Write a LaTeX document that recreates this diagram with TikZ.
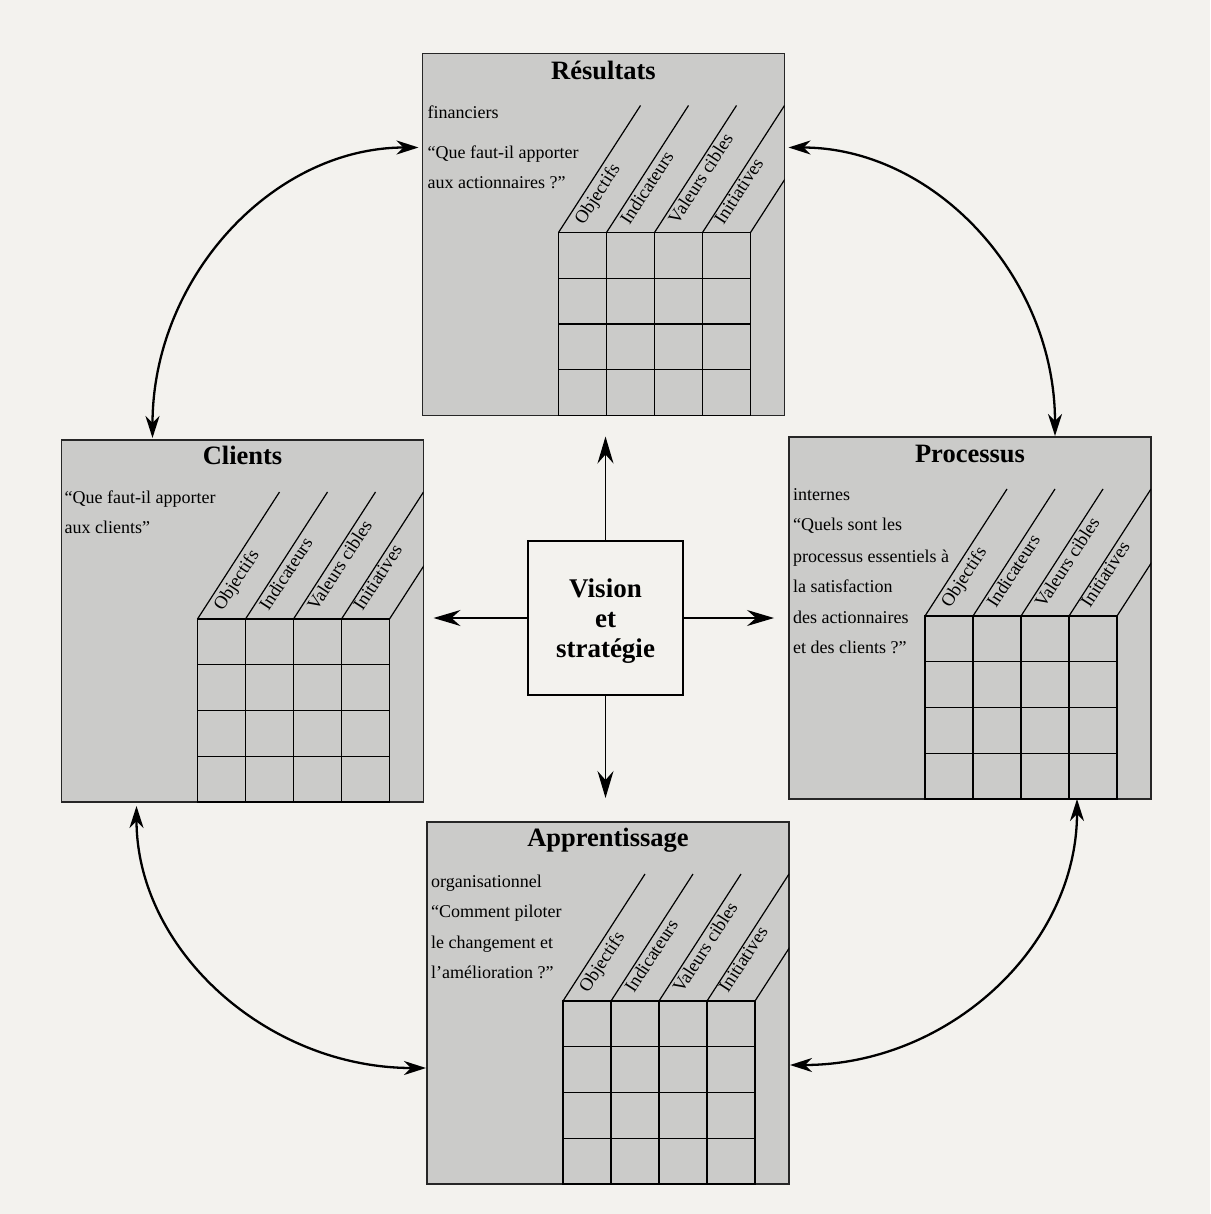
\documentclass[tikz,border=0pt]{standalone}
\usepackage{fontspec}
\setmainfont{Liberation Serif}
\usetikzlibrary{arrows.meta,calc}
\definecolor{pagebg}{RGB}{243,242,238}
\definecolor{boxgray}{RGB}{203,203,201}
\newcommand{\panelgrid}[1]{%
  \begin{scope}[shift={(#1.north west)}]
    \begin{scope}
      \clip (0,0) rectangle (362,362);
      \draw[gridline] (136,179) rectangle (328,362);
      \foreach \i in {1,2,3} \draw[gridline] (136+48*\i,179) -- ++(0,183);
      \foreach \j in {1,2,3} \draw[gridline] (136,179+45.75*\j) -- ++(192,0);
      \foreach \i in {0,...,4} \draw[gridline] (136+48*\i,179) -- ++(82,-127);
    \end{scope}
    \node[collabel] at (136+25,172) {Objectifs};
    \node[collabel] at (136+48+23,172) {Indicateurs};
    \node[collabel] at (136+96+23,172) {Valeurs cibles};
    \node[collabel] at (136+144+21,172) {Initiatives};
  \end{scope}}
\begin{document}
\begin{tikzpicture}[x=1pt,y=-1pt,
  panel/.style={draw=black!85, line width=1.3pt, fill=boxgray,
    minimum width=362pt, minimum height=362pt, inner sep=0pt, outer sep=0pt},
  visbox/.style={draw=black, line width=1.4pt, fill=pagebg,
    minimum width=155pt, minimum height=154pt, inner sep=0pt, outer sep=0pt},
  gridline/.style={draw=black, line width=1.2pt},
  collabel/.style={rotate=57, anchor=base west, inner sep=0pt,
    font=\fontsize{18.5}{20}\selectfont},
  titletext/.style={anchor=base, inner sep=0pt,
    font=\bfseries\fontsize{26.5}{30}\selectfont},
  bodytext/.style={anchor=base west, inner sep=0pt,
    font=\fontsize{18}{20}\selectfont},
  straightarrow/.style={draw=black, line width=1.4pt,
    -{Stealth[length=27pt,width=16pt,inset=9pt]}},
  curvearrow/.style={draw=black, line width=2.3pt,
    {Stealth[length=22pt,width=14pt,inset=7pt]}-{Stealth[length=22pt,width=14pt,inset=7pt]}}]

\useasboundingbox (0,0) rectangle (1210,1214);
\fill[pagebg] (0,0) rectangle (1210,1214);

% panels
\node[panel] (res) at (603.5,234.5) {};
\node[panel] (cli) at (242.5,621) {};
\node[panel] (pro) at (970,618) {};
\node[panel] (app) at (608,1003) {};
\node[visbox] (vis) at (605.5,618) {};

\panelgrid{res}
\panelgrid{cli}
\panelgrid{pro}
\panelgrid{app}

% titles
\node[titletext] (tres) at ($(res.north)+(0,26)$) {Résultats};
\node[titletext] (tcli) at ($(cli.north)+(0,24)$) {Clients};
\node[titletext] (tpro) at ($(pro.north)+(0,25)$) {Processus};
\node[titletext] (tapp) at ($(app.north)+(0,24)$) {Apprentissage};

% body texts
\node[bodytext] (r1) at ($(res.north west)+(5,65)$) {financiers};
\node[bodytext] (r2) at ($(res.north west)+(5,105)$) {“Que faut-il apporter};
\node[bodytext] (r3) at ($(res.north west)+(5,135)$) {aux actionnaires ?”};

\node[bodytext] (c1) at ($(cli.north west)+(3,63)$) {“Que faut-il apporter};
\node[bodytext] (c2) at ($(cli.north west)+(3,93)$) {aux clients”};

\node[bodytext] (p1) at ($(pro.north west)+(4,63)$) {internes};
\node[bodytext] (p2) at ($(pro.north west)+(4,93)$) {“Quels sont les};
\node[bodytext] (p3) at ($(pro.north west)+(4,125)$) {processus essentiels à};
\node[bodytext] (p4) at ($(pro.north west)+(4,155)$) {la satisfaction};
\node[bodytext] (p5) at ($(pro.north west)+(4,186)$) {des actionnaires};
\node[bodytext] (p6) at ($(pro.north west)+(4,216)$) {et des clients ?”};

\node[bodytext] (a1) at ($(app.north west)+(4,65)$) {organisationnel};
\node[bodytext] (a2) at ($(app.north west)+(4,95)$) {“Comment piloter};
\node[bodytext] (a3) at ($(app.north west)+(4,126)$) {le changement et};
\node[bodytext] (a4) at ($(app.north west)+(4,156)$) {l’amélioration ?”};

% vision text
\node[align=center, inner sep=0pt, font=\bfseries\fontsize{27}{30}\selectfont]
  (vtext) at ($(vis.center)+(0,3)$) {Vision\\et\\stratégie};

% straight arrows
\draw[straightarrow] (vis.north) -- ($(vis.north |- res.south)+(0,21)$);
\draw[straightarrow] (vis.south) -- ($(vis.south |- app.north)+(0,-24)$);
\draw[straightarrow] (vis.west) -- ($(vis.west -| cli.east)+(10,0)$);
\draw[straightarrow] (vis.east) -- ($(vis.east -| pro.west)+(-15,0)$);

% curved arrows
\draw[curvearrow] ($(res.north west)+(-4,94)$) .. controls +(-146,0) and +(0,-160) .. ($(cli.north west)+(91,-2)$);
\draw[curvearrow] ($(res.north east)+(4,94)$) .. controls +(146,0) and +(0,-159) .. ($(pro.north west)+(266,-1)$);
\draw[curvearrow] ($(cli.south west)+(75,4)$) .. controls +(0,144) and +(-159,0) .. ($(app.north west)+(-1,246)$);
\draw[curvearrow] ($(pro.south west)+(288,0)$) .. controls +(0,147) and +(159,0) .. ($(app.north east)+(1,243)$);

\end{tikzpicture}
\end{document}
